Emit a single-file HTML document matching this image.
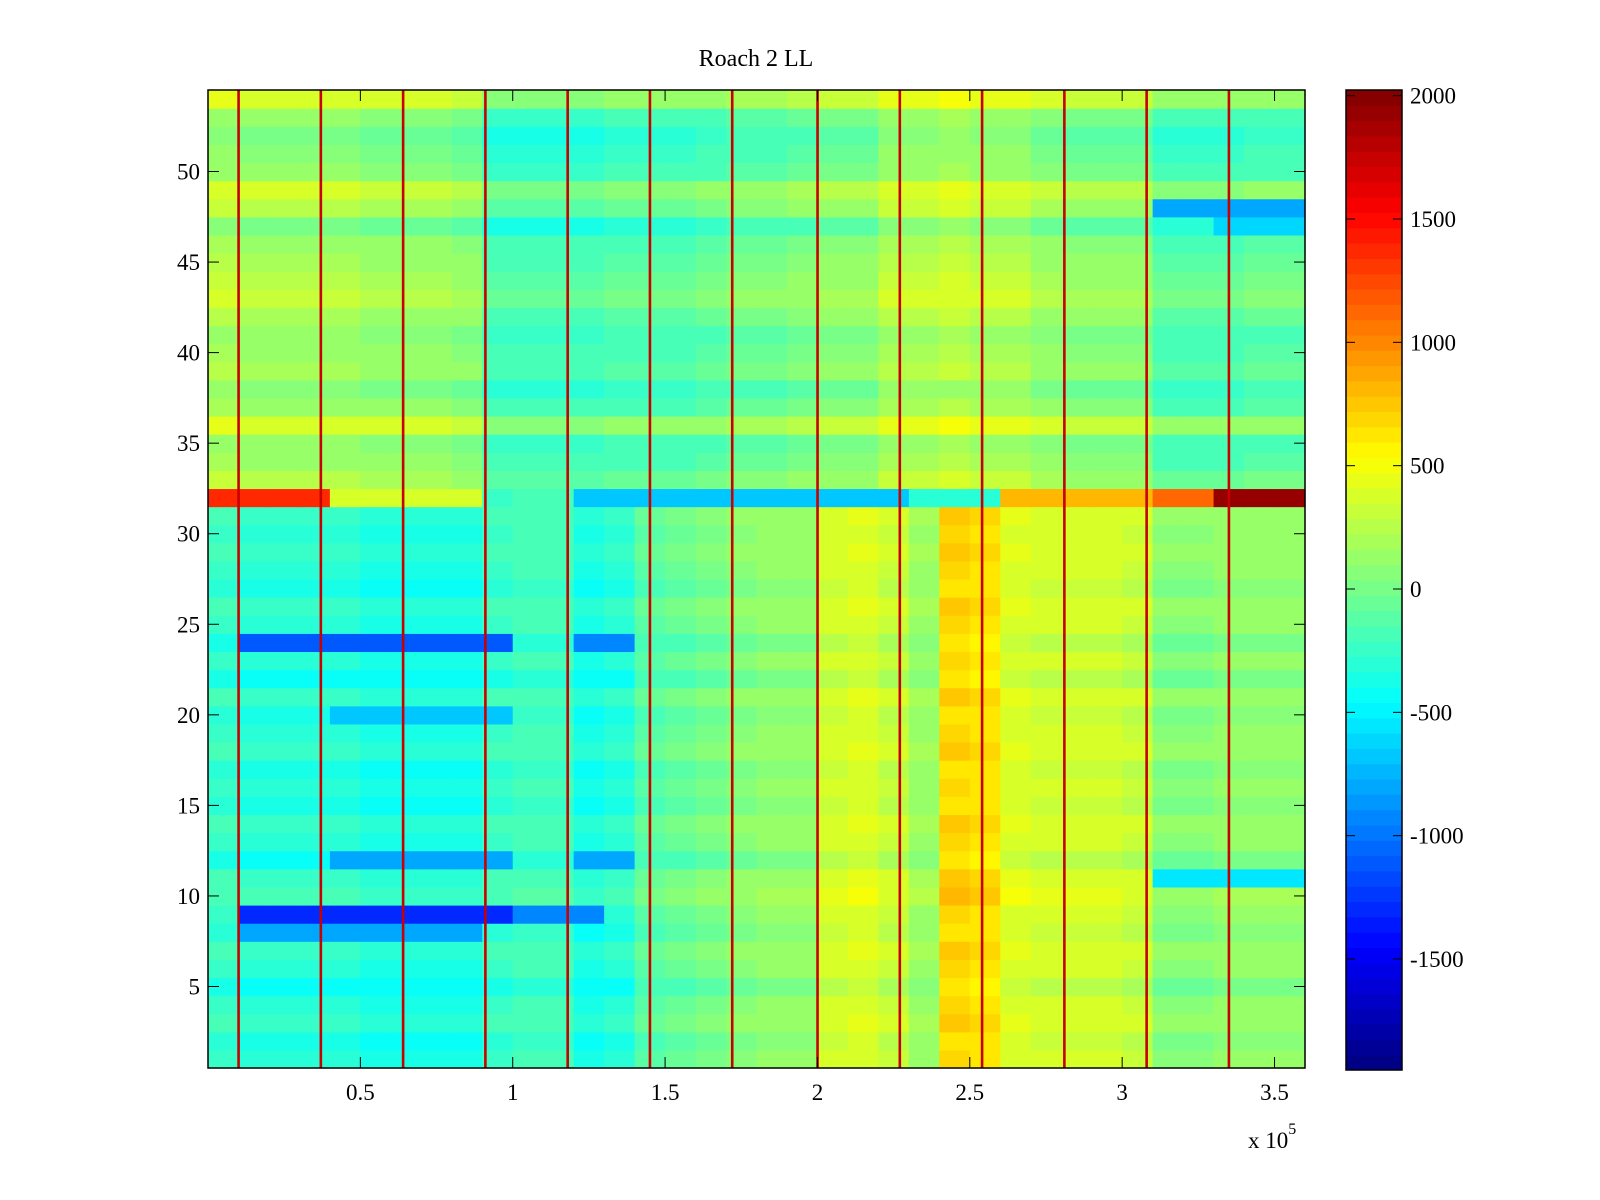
<!DOCTYPE html>
<html><head><meta charset="utf-8"><style>
html,body{margin:0;padding:0;background:#fff;}
svg{display:block;font-family:"Liberation Serif",serif;}
</style></head><body>
<svg id="chart" width="1600" height="1200" viewBox="0 0 1600 1200" xmlns="http://www.w3.org/2000/svg">
<rect width="1600" height="1200" fill="#fff"/>
<text x="756" y="66" font-size="24" text-anchor="middle">Roach 2 LL</text>
<g id="cells"></g>
<g id="spikes"></g>
<g id="axes"></g>
<g id="cbar"></g>
</svg>
<script>
// ---- data ----
const colEdges = [0,0.1,0.2,0.3,0.4,0.5,0.6,0.7,0.8,0.9,1.0,1.1,1.2,1.3,1.4,1.5,1.6,1.7,1.8,1.9,2.0,2.1,2.2,2.3,2.4,2.5,2.6,2.7,2.8,2.9,3.0,3.1,3.2,3.3,3.4,3.5,3.6];
const lowerProfile = [-250,-300,-300,-300,-300,-350,-350,-350,-350,-250,-200,-200,-350,-300,-100,-50,0,50,100,100,350,400,300,150,700,650,400,350,350,350,300,50,50,100,100,100];
const upperProfile = [200,150,150,150,150,100,100,100,50,-200,-200,-200,-200,-150,-150,-150,-100,-50,-50,0,50,50,200,200,250,200,200,100,50,50,50,-150,-150,-150,-100,-100];
const rowBase = [0,-50,50,0,-100,0,50,-50,0,100,50,-100,0,50,-50,0,-50,50,0,-50,50,-100,0,-100,0,50,-50,0,50,0,50,0,100,0,-50,250,0,-100,50,0,-50,50,150,100,50,0,-150,100,200,-50,-100,-150,-50,250];
const exceptions = [
 [32,0,0.4,1400],[32,0.4,0.9,400],[32,1.2,2.3,-650],[32,2.3,2.6,-300],[32,2.6,3.1,800],[32,3.1,3.3,1100],[32,3.3,3.6,1900],
 [9,0.1,1.0,-1300],[9,1.0,1.3,-900],[8,0.1,0.9,-800],
 [24,0.1,1.0,-1100],[24,1.2,1.4,-900],
 [12,0.4,1.0,-800],[12,1.2,1.4,-800],[20,0.4,1.0,-700],
 [11,3.1,3.6,-550],[48,3.1,3.6,-800],[47,3.3,3.6,-600]
];
const spikeTimes = [0.1,0.37,0.64,0.91,1.18,1.45,1.72,2.0,2.27,2.54,2.81,3.08,3.35];
const spikeValue = 1750;
const xTicks = [0.5,1,1.5,2,2.5,3,3.5];
const xTickLabels = ["0.5","1","1.5","2","2.5","3","3.5"];
const yTicks = [5,10,15,20,25,30,35,40,45,50];
const cbTicks = [2000,1500,1000,500,0,-500,-1000,-1500];
const clim = [-1950,2023];
const nRows = 54;

// ---- scales ----
const PX0=208, PX1=1305, PY0=90, PY1=1068;
const xS = v => PX0 + (v-0)/(3.6-0)*(PX1-PX0);
const yS = v => PY1 - (v-0.5)/(nRows)*(PY1-PY0);
function jet(t){
  t=Math.max(0,Math.min(1,t));
  const r=Math.max(0,Math.min(1,1.5-Math.abs(4*t-3)));
  const g=Math.max(0,Math.min(1,1.5-Math.abs(4*t-2)));
  const b=Math.max(0,Math.min(1,1.5-Math.abs(4*t-1)));
  return `rgb(${Math.round(r*255)},${Math.round(g*255)},${Math.round(b*255)})`;
}
const colorOf = v => { const idx=Math.floor((v-clim[0])/(clim[1]-clim[0])*64); return jet((Math.max(0,Math.min(63,idx))+0.5)/64); };
const NS="http://www.w3.org/2000/svg";
function mk(tag,attrs,parent){const e=document.createElementNS(NS,tag);for(const k in attrs)e.setAttribute(k,attrs[k]);parent.appendChild(e);return e;}

// ---- cells ----
const cells=document.getElementById('cells');
for(let r=1;r<=nRows;r++){
  const prof = r<=32 ? lowerProfile : upperProfile;
  for(let c=0;c<colEdges.length-1;c++){
    const x0=colEdges[c], x1=colEdges[c+1];
    let v=prof[c]+rowBase[r-1];
    exceptions.forEach(e=>{ if(e[0]===r && x0>=e[1]-1e-9 && x1<=e[2]+1e-9) v=e[3]; });
    const el=mk('rect',{x:xS(x0),y:yS(r+0.5),width:xS(x1)-xS(x0)+0.6,height:yS(r-0.5)-yS(r+0.5)+0.6,fill:colorOf(v)},cells);
    
    
  }
}
// ---- spikes ----
const spikes=document.getElementById('spikes');
spikeTimes.forEach(t=>{
  const el=mk('rect',{x:xS(t)-1.2,y:PY0,width:2.6,height:PY1-PY0,fill:colorOf(spikeValue)},spikes);
  
  
});
// ---- axes ----
const axes=document.getElementById('axes');
mk('rect',{x:PX0,y:PY0,width:PX1-PX0,height:PY1-PY0,fill:'none',stroke:'#000','stroke-width':1.5},axes);
xTicks.forEach((t,i)=>{
  const x=xS(t);
  mk('line',{x1:x,y1:PY1,x2:x,y2:PY1-11,stroke:'#000'},axes);
  mk('line',{x1:x,y1:PY0,x2:x,y2:PY0+11,stroke:'#000'},axes);
  const tx=mk('text',{x:x,y:1100,'font-size':23,'text-anchor':'middle'},axes);
  tx.textContent=xTickLabels[i];
  
  
});
yTicks.forEach(t=>{
  const y=yS(t);
  mk('line',{x1:PX0,y1:y,x2:PX0+11,y2:y,stroke:'#000'},axes);
  mk('line',{x1:PX1,y1:y,x2:PX1-11,y2:y,stroke:'#000'},axes);
  const tx=mk('text',{x:200,y:y+8,'font-size':23,'text-anchor':'end'},axes);
  tx.textContent=String(t);
  
  
});
const ex=mk('text',{x:1248,y:1148,'font-size':23},axes);
ex.innerHTML='x 10<tspan dy="-14" font-size="16">5</tspan>';


// ---- colorbar ----
const cb=document.getElementById('cbar');
const CX0=1346, CX1=1402, CY0=90, CY1=1070;
const cy = v => CY1 - (v-clim[0])/(clim[1]-clim[0])*(CY1-CY0);
for(let i=0;i<64;i++){
  const h=(CY1-CY0)/64;
  mk('rect',{x:CX0,y:CY1-(i+1)*h,width:CX1-CX0,height:h+0.5,fill:jet((i+0.5)/64)},cb);
}
mk('rect',{x:CX0,y:CY0,width:CX1-CX0,height:CY1-CY0,fill:'none',stroke:'#000','stroke-width':1.5},cb);
cbTicks.forEach(t=>{
  const y=cy(t);
  mk('line',{x1:CX0,y1:y,x2:CX0+9,y2:y,stroke:'#000'},cb);
  mk('line',{x1:CX1,y1:y,x2:CX1-9,y2:y,stroke:'#000'},cb);
  const tx=mk('text',{x:1410,y:y+8,'font-size':23},cb);
  tx.textContent=String(t);
  
  
});
</script>
</body></html>
